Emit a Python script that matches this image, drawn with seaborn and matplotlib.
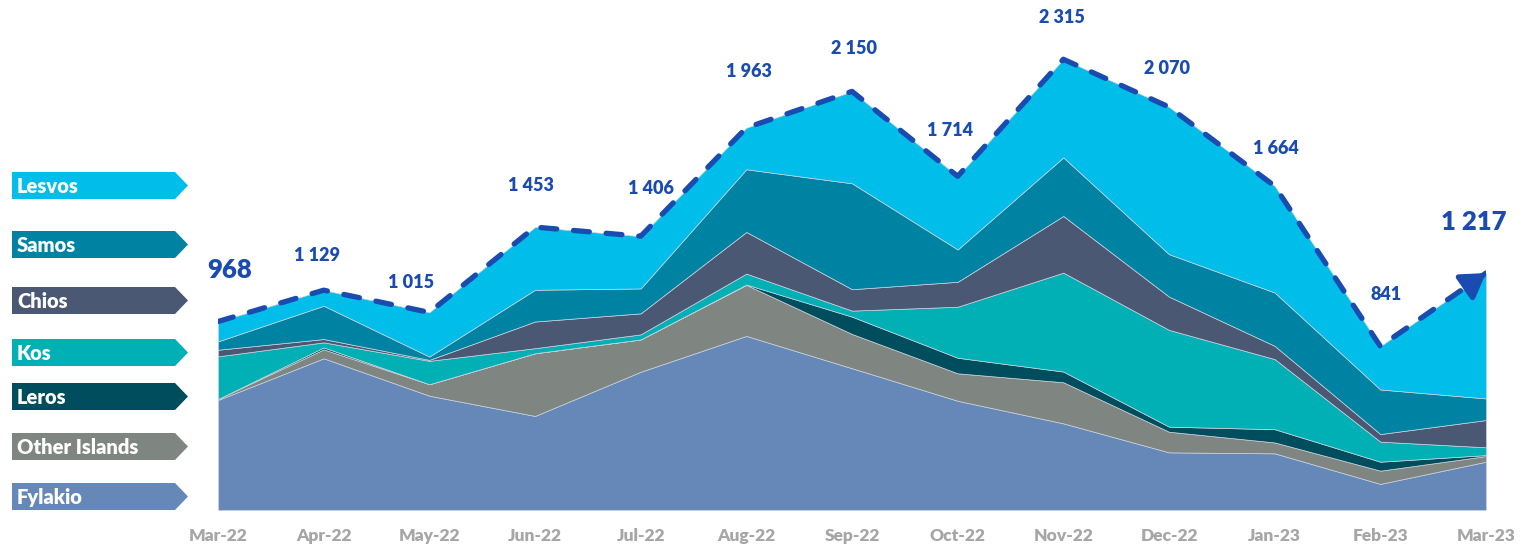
import numpy as np
import pandas as pd
import matplotlib
matplotlib.use("Agg")
import matplotlib.pyplot as plt
from matplotlib.patches import Polygon
import seaborn as sns

# ---------------- data ----------------
months = ['Mar-22', 'Apr-22', 'May-22', 'Jun-22', 'Jul-22', 'Aug-22', 'Sep-22',
          'Oct-22', 'Nov-22', 'Dec-22', 'Jan-23', 'Feb-23', 'Mar-23']
fylakio = [565, 779, 587, 483, 710, 894, 728, 561, 445, 296, 291, 134, 248]
other_islands = [5, 46, 59, 322, 166, 262, 176, 141, 211, 106, 56, 68, 29]
leros = [0, 10, 0, 0, 0, 2, 89, 80, 55, 26, 68, 46, 5]
kos = [219, 26, 120, 26, 26, 56, 31, 262, 508, 497, 360, 103, 40]
chios = [34, 17, 5, 137, 108, 214, 110, 128, 291, 171, 68, 39, 140]
samos = [43, 171, 17, 163, 128, 322, 544, 166, 301, 218, 274, 229, 111]
lesvos = [102, 80, 227, 322, 268, 213, 472, 376, 504, 756, 547, 222, 644]
totals = [968, 1129, 1015, 1453, 1406, 1963, 2150, 1714, 2315, 2070, 1664, 841, 1217]

series_names = ['Fylakio', 'Other Islands', 'Leros', 'Kos', 'Chios', 'Samos', 'Lesvos']
series_values = [fylakio, other_islands, leros, kos, chios, samos, lesvos]

# ---------------- styles ----------------
colors = {
    'Fylakio': '#6688B8',
    'Other Islands': '#7F8580',
    'Leros': '#004D5E',
    'Kos': '#00B0B4',
    'Chios': '#4A5874',
    'Samos': '#0083A3',
    'Lesvos': '#00BDE9',
}
line_color = '#1A4BB0'
label_offsets = [(12, 52), (-7, 35), (-18, 30), (-4, 42), (10, 48), (3, 56), (2, 43),
                 (-8, 46), (-1, 42), (-2, 38), (1, 38), (6, 52), (-12, 51)]
big_labels = {0, 12}

W, H = 1522, 547
sns.set_theme(style='white')
plt.rcParams['font.family'] = ['Lato', 'DejaVu Sans']

fig = plt.figure(figsize=(W / 100, H / 100), dpi=100)
ax = fig.add_axes([218 / W, (H - 510) / H, (1486 - 218) / W, 510 / H])

x = np.arange(len(months))
ax.stackplot(x, *series_values, colors=[colors[n] for n in series_names],
             edgecolor='#c9d3dd', linewidth=0.5)

df = pd.DataFrame({'x': x, 'total': totals})
sns.lineplot(data=df, x='x', y='total', ax=ax, color=line_color, lw=3.8,
             dashes=False, solid_capstyle='round')
ln = ax.lines[-1]
ln.set_linestyle((0, (3.0, 3.2)))
ln.set_dash_capstyle('round')

# arrow head at the end
x0 = x[-1] - 0.15
y0 = totals[-2] + (totals[-1] - totals[-2]) * (1 - 0.15)
ax.annotate('', xy=(x[-1], totals[-1]), xytext=(x0, y0),
            arrowprops=dict(arrowstyle='-|>,head_length=1.2,head_width=0.75',
                            color=line_color, lw=3.8, shrinkA=0, shrinkB=0))

for i, (xi, v) in enumerate(zip(x, totals)):
    dx, dy = label_offsets[i]
    ax.annotate(f"{v:,}".replace(',', ' '), xy=(xi, v), xytext=(dx, dy),
                textcoords='offset pixels', ha='center', va='center',
                fontsize=18.5 if i in big_labels else 13, fontweight='heavy',
                color=line_color)

ax.set_xlim(0, 12)
ax.set_ylim(0, 510 / 0.1947)
ax.set_xticks(x)
ax.set_xticklabels(months, fontsize=12.5, fontweight='heavy', color='#A6A6A6')
ax.tick_params(axis='x', length=0, pad=13)
ax.set_yticks([])
ax.set_xlabel('')
ax.set_ylabel('')
for s in ax.spines.values():
    s.set_visible(False)
ax.set_facecolor('none')

# left tags
tags = ['Lesvos', 'Samos', 'Chios', 'Kos', 'Leros', 'Other Islands', 'Fylakio']
tag_tops = [172, 231, 287, 339, 383, 433, 483]
tag_h = 27
for name, top in zip(tags, tag_tops):
    pts = [(12, top), (175, top), (188, top + tag_h / 2), (175, top + tag_h), (12, top + tag_h)]
    pts = [(px / W, 1 - py / H) for px, py in pts]
    fig.patches.append(Polygon(pts, closed=True, transform=fig.transFigure,
                               facecolor=colors[name], edgecolor='none'))
    fig.text(17 / W, 1 - (top + tag_h / 2 + 1) / H, name, color='white',
             fontsize=14.5, fontweight='heavy', ha='left', va='center')

fig.savefig('out.png', dpi=100)
